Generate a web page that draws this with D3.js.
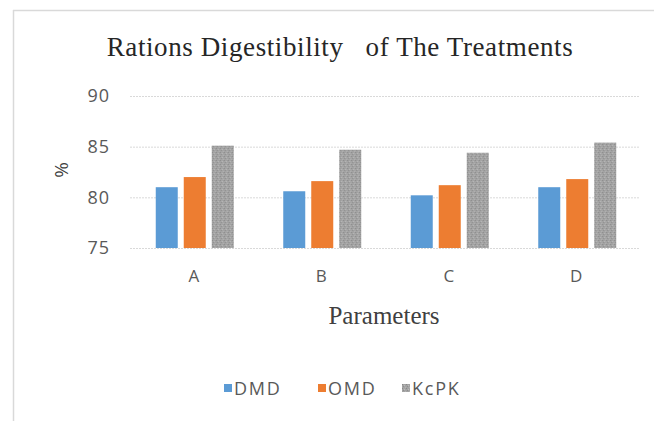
<!DOCTYPE html>
<html>
<head>
<meta charset="utf-8">
<title>Rations Digestibility of The Treatments</title>
<style>
  body { margin: 0; background: #fff; }
  svg { display: block; }
  .tick text { fill: #595959; font-family: "Open Sans", sans-serif; }
</style>
</head>
<body>
<div id="chart"></div>
<script src="https://cdnjs.cloudflare.com/ajax/libs/d3/7.8.5/d3.min.js"></script>
<script>
// data
var categories = ["A", "B", "C", "D"];
var seriesNames = ["DMD", "OMD", "KcPK"];
var dmd  = [81.0, 80.6, 80.2, 81.0];
var omd  = [82.0, 81.6, 81.2, 81.8];
var kcpk = [85.1, 84.7, 84.4, 85.4];
var yTicks = [75, 80, 85, 90];

var seriesValues = [dmd, omd, kcpk];
var colors = ["#5b9bd5", "#ed7d31", "url(#grain)"];

var W = 654, H = 421;
var svg = d3.select("#chart").append("svg").attr("width", W).attr("height", H);

// grainy grey fill like the Excel pattern
var defs = svg.append("defs");
var pat = defs.append("pattern").attr("id", "grain")
  .attr("patternUnits", "userSpaceOnUse").attr("width", 4).attr("height", 4);
pat.append("rect").attr("width", 4).attr("height", 4).attr("fill", "#a3a3a3");
pat.append("rect").attr("x", 0).attr("y", 0).attr("width", 1).attr("height", 1).attr("fill", "#888");
pat.append("rect").attr("x", 2).attr("y", 1).attr("width", 1).attr("height", 1).attr("fill", "#bbb");
pat.append("rect").attr("x", 1).attr("y", 2).attr("width", 1).attr("height", 1).attr("fill", "#8e8e8e");
pat.append("rect").attr("x", 3).attr("y", 3).attr("width", 1).attr("height", 1).attr("fill", "#b3b3b3");

// chart frame (only top and left edges are visible in the crop)
svg.append("line").attr("x1", 13).attr("x2", W).attr("y1", 10.5).attr("y2", 10.5)
  .attr("stroke", "#d9d9d9").attr("stroke-width", 1.5);
svg.append("line").attr("x1", 13.5).attr("x2", 13.5).attr("y1", 10).attr("y2", H)
  .attr("stroke", "#d9d9d9").attr("stroke-width", 1.5);

var x0 = d3.scaleBand().domain(categories).range([130, 640]);
var x1 = d3.scaleBand().domain(seriesNames).range([0, 78]).paddingInner(6 / 28);
var y = d3.scaleLinear().domain([75, 90]).range([248, 96]);

// gridlines + y labels
var yAxis = d3.axisLeft(y).tickValues(yTicks).tickSize(-510).tickPadding(20);
var gy = svg.append("g").attr("transform", "translate(130,0)").call(yAxis);
gy.select(".domain").remove();
gy.selectAll(".tick line").attr("stroke", "#d9d9d9").attr("stroke-dasharray", "2,1");
gy.selectAll(".tick text").attr("font-size", 18).attr("letter-spacing", 1);

// x labels
var xAxis = d3.axisBottom(x0).tickSize(0).tickPadding(22);
var gx = svg.append("g").attr("transform", "translate(0,248)").call(xAxis);
gx.select(".domain").remove();
gx.selectAll(".tick text").attr("font-size", 17);

// bars
var groups = svg.selectAll(".grp").data(categories).enter().append("g")
  .attr("class", "grp")
  .attr("transform", function(d) { return "translate(" + (x0(d) + (x0.bandwidth() - 78) / 2 + 1) + ",0)"; });

groups.selectAll("rect")
  .data(function(d, i) {
    return seriesNames.map(function(s, j) { return { series: s, value: seriesValues[j][i], j: j }; });
  })
  .enter().append("rect")
  .attr("x", function(d) { return x1(d.series); })
  .attr("y", function(d) { return y(d.value); })
  .attr("width", x1.bandwidth())
  .attr("height", function(d) { return y(75) - y(d.value); })
  .attr("fill", function(d) { return colors[d.j]; });

// title
svg.append("text").attr("x", 340).attr("y", 56).attr("text-anchor", "middle")
  .attr("font-family", "Liberation Serif, serif").attr("font-size", 27).attr("fill", "#262626")
  .attr("letter-spacing", 0.6)
  .attr("xml:space", "preserve")
  .text("Rations Digestibility   of The Treatments");

// axis titles
svg.append("text").attr("x", 384).attr("y", 324).attr("text-anchor", "middle")
  .attr("font-family", "Liberation Serif, serif").attr("font-size", 25).attr("fill", "#404040")
  .text("Parameters");
svg.append("text").attr("transform", "translate(68,170) rotate(-90)").attr("text-anchor", "middle")
  .attr("font-family", "Open Sans, sans-serif").attr("font-size", 19).attr("fill", "#404040")
  .text("%");

// legend
var legendX = [224, 318, 402];
var leg = svg.selectAll(".leg").data(seriesNames).enter().append("g")
  .attr("class", "leg")
  .attr("transform", function(d, i) { return "translate(" + legendX[i] + ",384)"; });
leg.append("rect").attr("width", 8).attr("height", 8)
  .attr("fill", function(d, i) { return colors[i]; });
leg.append("text").attr("x", 10).attr("y", 10.5)
  .attr("font-family", "Open Sans, sans-serif").attr("font-size", 18).attr("fill", "#595959")
  .attr("letter-spacing", 1.8)
  .text(function(d) { return d; });
</script>
</body>
</html>
